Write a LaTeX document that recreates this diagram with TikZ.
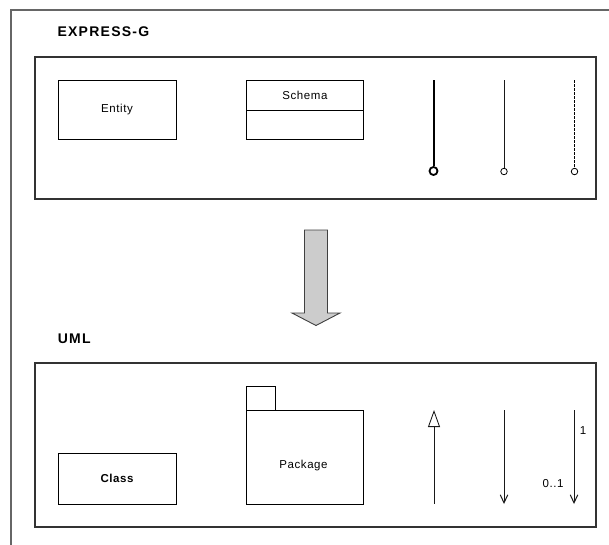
\documentclass[tikz,border=0pt]{standalone}
\usepackage{fontspec}
\setmainfont{Liberation Sans}
\usetikzlibrary{arrows.meta}
\begin{document}
\begin{tikzpicture}[x=1pt,y=-1pt,
  outerframe/.style={draw=black!60, line width=1.3pt},
  panel/.style={draw=black!80, line width=1.3pt},
  box/.style={draw=black, line width=0.9pt, rectangle, inner sep=0pt, anchor=north west},
  lbl/.style={font=\fontsize{11.5}{13}\selectfont\addfontfeature{LetterSpace=5}, inner sep=0pt},
  blbl/.style={font=\fontsize{11.5}{13}\selectfont\bfseries\addfontfeature{LetterSpace=5}, inner sep=0pt},
  heading/.style={font=\fontsize{14}{16}\selectfont\bfseries\addfontfeature{LetterSpace=9}, inner sep=0pt, anchor=base west},
  ring/.style={circle, draw=black, fill=white, inner sep=0pt},
  symline/.style={draw=black!90, line width=0.85pt},
]
\useasboundingbox (0,0) rectangle (609,544);
% outer frame (clipped at right and bottom)
\draw[outerframe] (11,546) -- (11,10) -- (611,10);

% headings
\node[heading] (hexp) at (57.3,36.7) {EXPRESS-G};
\node[heading] (huml) at (57.6,343.3) {UML};

% panels
\draw[panel] (35,57) rectangle (596,199);
\draw[panel] (35,363) rectangle (596,527);

% EXPRESS-G symbols
\node[box, minimum width=118pt, minimum height=59pt, lbl] (entity) at (57.6,80) {Entity};
\node[box, minimum width=117pt, minimum height=30pt, lbl] (schemat) at (246,80) {Schema};
\node[box, minimum width=117pt, minimum height=29pt] (schemab) at (246,110) {};

\node[ring, minimum size=8pt, line width=1.8pt] (c1) at (433.5,171) {};
\coordinate (t1) at (433.5,80);
\draw[black, line width=2pt] (t1) -- (c1.north);

\node[ring, minimum size=6.5pt, line width=0.8pt] (c2) at (504,171.5) {};
\coordinate (t2) at (504,80);
\draw[symline] (t2) -- (c2.north);

\node[ring, minimum size=6.5pt, line width=0.8pt] (c3) at (574.5,171.5) {};
\coordinate (t3) at (574.5,80);
\draw[symline, draw=black, dash pattern=on 2.5pt off 1.5pt] (t3) -- (c3.north);

% big arrow
\draw[draw=black!75, fill=black!20, line width=0.9pt]
  (304.5,230) -- (327.5,230) -- (327.5,313) -- (340,313) -- (316,325.5)
  -- (292,313) -- (304.5,313) -- cycle;

% UML symbols
\node[box, minimum width=118pt, minimum height=50.5pt, blbl] (class) at (57.6,453) {Class};
\node[box, minimum width=29pt, minimum height=24.3pt] (tab) at (246,386) {};
\node[box, minimum width=117pt, minimum height=93.2pt] (package) at (246,410.3) {};
\node[lbl] (pkglbl) at (303.5,465.5) {Package};

\coordinate (u1) at (434,503.5);
\coordinate (u2) at (434,410);
\draw[symline, -{Triangle[open, length=17pt, width=12pt, fill=white]}] (u1) -- (u2);

\coordinate (d1) at (504,410);
\coordinate (d2) at (504,504);
\draw[symline, -{Straight Barb[length=8pt, width=7.5pt, line width=1pt]}] (d1) -- (d2);

\coordinate (e1) at (574,410);
\coordinate (e2) at (574,504);
\draw[symline, -{Straight Barb[length=8pt, width=7.5pt, line width=1pt]}] (e1) -- (e2);
\node[lbl] (one) at (583,431) {1};
\node[lbl] (zeroone) at (553,484) {0..1};
\end{tikzpicture}
\end{document}
